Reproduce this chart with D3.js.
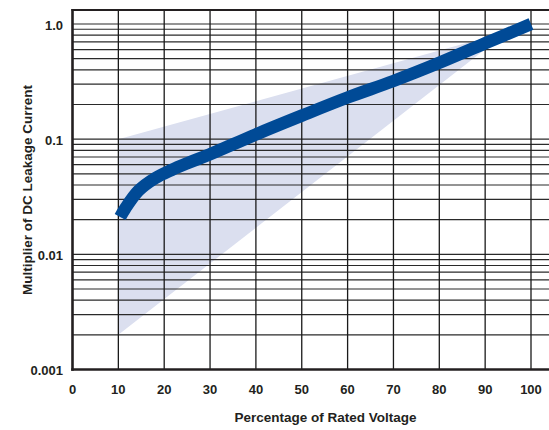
<!DOCTYPE html>
<html><head><meta charset="utf-8">
<script src="https://cdn.jsdelivr.net/npm/d3@7"></script>
<style>body{margin:0;background:#fff}svg{display:block}text{font-family:"Liberation Sans",Arial,sans-serif;font-weight:bold;fill:#231f20}</style>
</head><body><svg id="c" width="549" height="430"></svg>
<script>
const xTicks = [0,10,20,30,40,50,60,70,80,90,100];
const yTickValues = [0.001,0.01,0.1,1];
const yTickLabels = ["0.001","0.01","0.1","1.0"];
const curveX = [10.4,11.5,14.4,18,21.6,25.3,30,40,50,60,70,80,90,100];
const curveY = [0.0211,0.025,0.0357,0.0458,0.054,0.0624,0.074,0.11,0.16,0.23,0.32,0.46,0.68,1.0];
const bandX = [10,95,10];
const bandY = [0.1,0.86,0.002];
const xTitle = "Percentage of Rated Voltage";
const yTitle = "Multiplier of DC Leakage Current";

const svg = d3.select("#c");
const W = 549, plotTop = 10;
const x = d3.scaleLinear().domain([0,100]).range([72.5,531]);
const y = d3.scaleLog().domain([0.001,1]).range([369.5,24]);

// band
svg.append("path")
  .attr("d", d3.line().x((d,i)=>x(bandX[i])).y((d,i)=>y(bandY[i]))(bandX) + "Z")
  .attr("fill","#dbdfef");

// horizontal grid
const hvals = [];
[0.001,0.01,0.1].forEach(dec=>{for(let k=1;k<=9;k++) hvals.push(dec*k);});
hvals.push(1);
svg.append("g").selectAll("line").data(hvals).join("line")
  .attr("x1",x(0)).attr("x2",W).attr("y1",d=>y(d)).attr("y2",d=>y(d))
  .attr("stroke","#2a2a2a").attr("stroke-width",1.2);

// vertical grid
svg.append("g").selectAll("line").data(xTicks.slice(1)).join("line")
  .attr("x1",d=>x(d)).attr("x2",d=>x(d)).attr("y1",plotTop).attr("y2",y(0.001))
  .attr("stroke","#1a1a1a").attr("stroke-width",1.3);

// curve
svg.append("path")
  .attr("d", d3.line().x((d,i)=>x(curveX[i])).y((d,i)=>y(curveY[i])).curve(d3.curveCatmullRom.alpha(0.5))(curveX))
  .attr("fill","none").attr("stroke","#004a96").attr("stroke-width",12.5).attr("stroke-linecap","butt");

// frame
svg.append("line").attr("x1",x(0)-1).attr("x2",W).attr("y1",plotTop).attr("y2",plotTop).attr("stroke","#231f20").attr("stroke-width",2.2);
svg.append("line").attr("x1",x(0)).attr("x2",x(0)).attr("y1",plotTop-1).attr("y2",y(0.001)+1.2).attr("stroke","#231f20").attr("stroke-width",2.6);
svg.append("line").attr("x1",x(0)-1.3).attr("x2",W).attr("y1",y(0.001)).attr("y2",y(0.001)).attr("stroke","#231f20").attr("stroke-width",2.6);

// tick labels
svg.append("g").selectAll("text").data(xTicks).join("text")
  .attr("x",d=>x(d)).attr("y",393.5).attr("text-anchor","middle").attr("font-size",13).text(d=>d);
svg.append("g").selectAll("text").data(yTickValues).join("text")
  .attr("x",63).attr("y",d=>y(d)+5.5).attr("text-anchor","end").attr("font-size",13).text((d,i)=>yTickLabels[i]);

// titles
svg.append("text").attr("x",325.5).attr("y",421.5).attr("text-anchor","middle").attr("font-size",13.5).text(xTitle);
svg.append("text").attr("transform","translate(32,190) rotate(-90)").attr("text-anchor","middle").attr("font-size",13.5).text(yTitle);
</script></body></html>
